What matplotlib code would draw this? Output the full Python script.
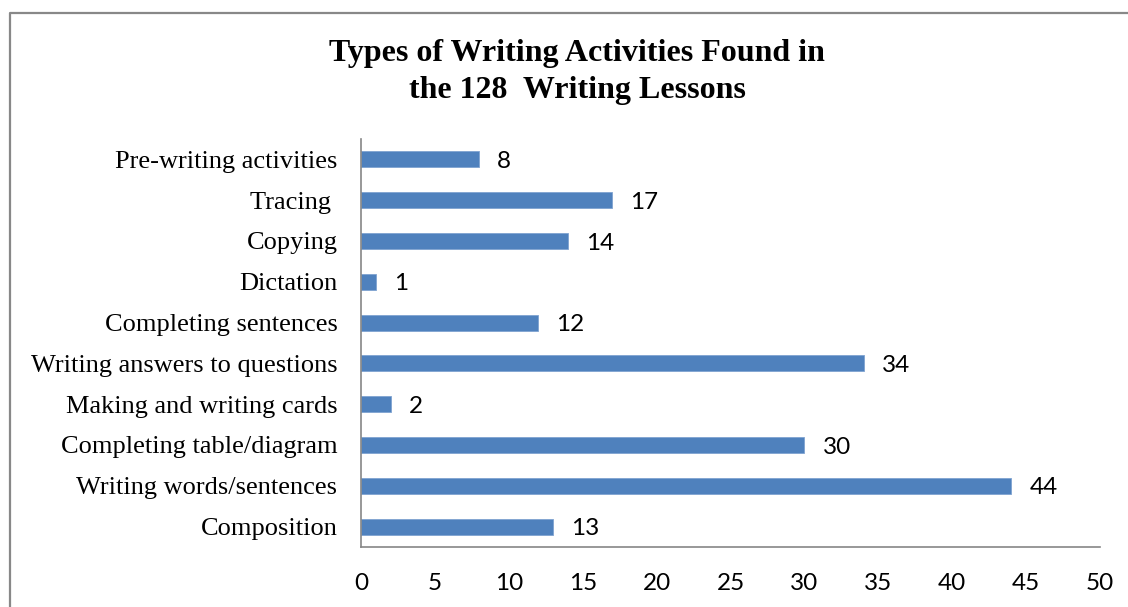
import matplotlib
matplotlib.use("Agg")
import matplotlib.pyplot as plt
from matplotlib.lines import Line2D

# data, top to bottom as shown
activities = ["Pre-writing activities", "Tracing ", "Copying", "Dictation",
              "Completing sentences", "Writing answers to questions",
              "Making and writing cards", "Completing table/diagram",
              "Writing words/sentences", "Composition"]
counts = [8, 17, 14, 1, 12, 34, 2, 30, 44, 13]
xticks = [0, 5, 10, 15, 20, 25, 30, 35, 40, 45, 50]

BAR = "#4F81BD"
SERIF = ["Liberation Serif", "DejaVu Serif"]
SANS = ["Lato", "DejaVu Sans"]

fig = plt.figure(figsize=(11.28, 6.07), dpi=100)
ax = fig.add_axes([361 / 1128, 1 - 547 / 607, 739 / 1128, 408 / 607])

pos = list(range(len(activities)))
ax.barh(pos, counts, height=0.39, color=BAR, edgecolor="#7FA3D1", lw=0.6)
ax.set_ylim(len(activities) - 0.5, -0.5)
ax.set_xlim(0, 50)
ax.set_yticks(pos)
ax.set_yticklabels(activities, family=SERIF, fontsize=19)
ax.set_xticks(xticks)
ax.set_xticklabels([str(t) for t in xticks], family=SANS, fontsize=17.5)
ax.tick_params(axis="y", length=0, pad=17)
ax.tick_params(axis="x", length=0, pad=19)

for s in ["top", "right"]:
    ax.spines[s].set_visible(False)
for s in ["left", "bottom"]:
    ax.spines[s].set_color("#868686")
    ax.spines[s].set_linewidth(1.2)

for p, v in zip(pos, counts):
    ax.annotate(str(v), (v, p), xytext=(13, -1.5), textcoords="offset points",
                va="center", ha="left", family=SANS, fontsize=17.5)

fig.text(577 / 1128, 1 - 72 / 607,
         "Types of Writing Activities Found in\nthe 128  Writing Lessons",
         ha="center", va="center", family=SERIF, fontsize=23,
         fontweight="bold", linespacing=1.4)

# outer frame (only left and top edges visible in the crop)
fig.add_artist(Line2D([10 / 1128, 10 / 1128, 1.0], [0.0, 1 - 13 / 607, 1 - 13 / 607],
                      transform=fig.transFigure, color="#888888", lw=1.6))

fig.savefig("out.png", dpi=100)
